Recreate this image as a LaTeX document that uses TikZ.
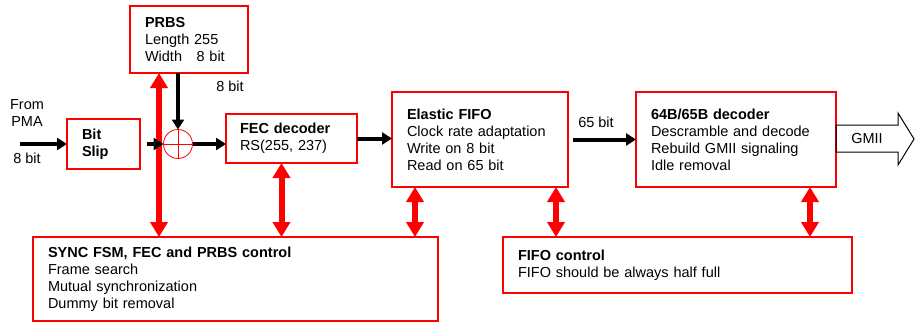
\documentclass[tikz,border=0pt]{standalone}
\usepackage{fontspec}
\setmainfont{Liberation Sans}
\usetikzlibrary{arrows.meta,positioning}
\begin{document}
\begin{tikzpicture}[x=1pt, y=-1pt, font=\fontsize{14.5}{17}\selectfont,
    blk/.style={draw=red, line width=1.5pt, anchor=north west, align=left, inner xsep=0pt, inner ysep=0pt, outer sep=0pt},
    dat/.style={line width=4pt, -{Triangle[length=10pt,width=12pt]}},
    ctl/.style={red, line width=6pt, {Triangle[length=15pt,width=17pt]}-{Triangle[length=15pt,width=17pt]}}]
    \useasboundingbox (0,0) rectangle (915,322);

    % Nodes
    \node[blk, minimum width=118pt, minimum height=67pt, text width=88pt] (prbs) at (130,6) {\textbf{PRBS}\\Length 255\\Width\quad 8 bit};
    \node[blk, minimum width=73pt, minimum height=50pt, text width=43pt] (slip) at (67,119) {\textbf{Bit}\\\textbf{Slip}};
    \node[circle, draw=red, line width=0.8pt, minimum size=29pt, inner sep=0pt, outer sep=0pt,
          path picture={\draw[red, line width=0.8pt] (path picture bounding box.north) -- (path picture bounding box.south)
                        (path picture bounding box.west) -- (path picture bounding box.east);}] (xor) at (178,144) {};
    \node[blk, minimum width=131pt, minimum height=49pt, text width=103pt] (fec) at (226,114) {\textbf{FEC decoder}\\RS(255, 237)};
    \node[blk, minimum width=176pt, minimum height=95pt, text width=146pt] (fifo) at (392,92) {\textbf{Elastic FIFO}\\Clock rate adaptation\\Write on 8 bit\\Read on 65 bit};
    \node[blk, minimum width=200pt, minimum height=95pt, text width=170pt] (dec) at (636,92) {\textbf{64B/65B decoder}\\Descramble and decode\\Rebuild GMII signaling\\Idle removal};
    \node[blk, minimum width=405pt, minimum height=84pt, text width=375pt] (sync) at (33,237) {\textbf{SYNC FSM, FEC and PRBS control}\\Frame search\\Mutual synchronization\\Dummy bit removal};
    \node[blk, minimum width=349pt, minimum height=56pt, text width=319pt] (fifoctl) at (503,237) {\textbf{FIFO control}\\FIFO should be always half full};

    % Labels
    \coordinate (pma) at (20,144);
    \node[align=center] (from) at (27,113) {From\\PMA};
    \node (w8a) at (27,158) {8 bit};
    \node (w8b) at (230,86) {8 bit};
    \node (w65) at (596,122) {65 bit};

    % GMII output
    \draw[line width=1pt] (dec.east |- 0,125) -- (898,125) -- (898,113) -- (914,139) -- (898,165) -- (898,152) -- (dec.east |- 0,152) -- cycle;
    \node (gmii) at (867,139) {GMII};

    % Control edges
    \draw[ctl] ([xshift=29pt]prbs.south west) -- ([xshift=29pt]prbs.south west |- sync.north);
    \draw[ctl] ([xshift=-10pt]fec.south) -- ([xshift=-10pt]fec.south |- sync.north);
    \draw[ctl] ([xshift=23pt]fifo.south west) -- ([xshift=23pt]fifo.south west |- sync.north);
    \draw[ctl] ([xshift=-12pt]fifo.south east) -- ([xshift=-12pt]fifo.south east |- fifoctl.north);
    \draw[ctl] ([xshift=-26pt]dec.south east) -- ([xshift=-26pt]dec.south east |- fifoctl.north);

    % Data edges
    \draw[dat] (pma) -- (slip.west);
    \draw[dat, shorten <=7pt] (slip) -- (xor);
    \draw[dat] (prbs.south -| xor) -- (xor.north);
    \draw[dat] (xor.east) -- (xor.east -| fec.west);
    \draw[dat] (fec.east) -- (fec.east -| fifo.west);
    \draw[dat, shorten <=5pt] (fifo.east) -- (fifo.east -| dec.west);
\end{tikzpicture}
\end{document}
